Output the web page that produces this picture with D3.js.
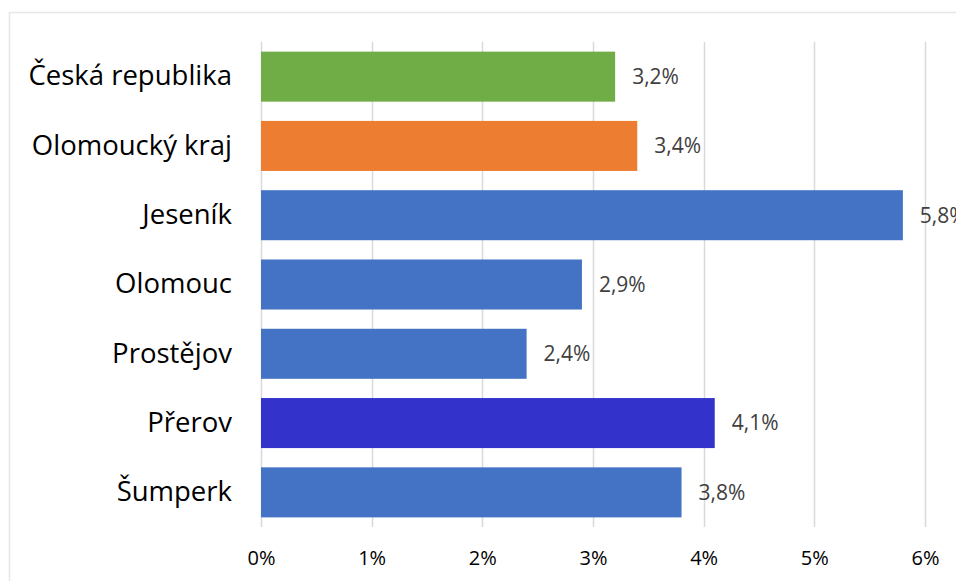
<!DOCTYPE html>
<html>
<head>
<meta charset="utf-8">
<script src="https://cdn.jsdelivr.net/npm/d3@7"></script>
<style>
  html, body { margin: 0; padding: 0; background: #fff; }
  svg { display: block; }
</style>
</head>
<body>
<svg id="chart" width="956" height="581"></svg>
<script>
// Unemployment share by region (percent)
const categories = ["Česká republika", "Olomoucký kraj", "Jeseník", "Olomouc", "Prostějov", "Přerov", "Šumperk"];
const values = [3.2, 3.4, 5.8, 2.9, 2.4, 4.1, 3.8];
const barColors = ["#70AD47", "#ED7D31", "#4472C4", "#4472C4", "#4472C4", "#3333CC", "#4472C4"];
const tickValues = [0, 1, 2, 3, 4, 5, 6];

const svg = d3.select("#chart");
const font = "'Open Sans', 'Noto Sans', sans-serif";

// chart frame
svg.append("rect")
  .attr("x", 9.5).attr("y", 12.5)
  .attr("width", 1000).attr("height", 1000)
  .attr("fill", "none").attr("stroke", "#e6e6e6").attr("stroke-width", 1.5);

const x = d3.scaleLinear().domain([0, 6]).range([261, 925]);
const y = d3.scaleBand().domain(categories).range([42, 527]).paddingInner(0.278).paddingOuter(0.139);

// vertical gridlines
svg.append("g").selectAll("line").data(tickValues).join("line")
  .attr("x1", d => Math.round(x(d)) + 0.5).attr("x2", d => Math.round(x(d)) + 0.5)
  .attr("y1", 42).attr("y2", 527)
  .attr("stroke", "#d9d9d9").attr("stroke-width", 1.5);

// x axis labels
const xAxis = d3.axisBottom(x).tickValues(tickValues).tickSize(0).tickPadding(0)
  .tickFormat(d => d + "%");
svg.append("g").attr("transform", "translate(0,558)").call(xAxis)
  .call(g => g.select(".domain").remove())
  .call(g => g.selectAll("text")
    .attr("font-family", font).attr("font-size", 20).attr("fill", "#000").attr("dy", "0.35em"));

// bars
svg.append("g").selectAll("rect").data(categories).join("rect")
  .attr("x", x(0))
  .attr("y", d => y(d))
  .attr("width", (d, i) => x(values[i]) - x(0))
  .attr("height", y.bandwidth())
  .attr("fill", (d, i) => barColors[i]);

// category labels
const yAxis = d3.axisLeft(y).tickSize(0).tickPadding(0);
svg.append("g").attr("transform", "translate(232,0)").call(yAxis)
  .call(g => g.select(".domain").remove())
  .call(g => g.selectAll("text")
    .attr("font-family", font).attr("font-size", 27.5).attr("fill", "#000"));

// value labels
svg.append("g").selectAll("text").data(categories).join("text")
  .attr("x", (d, i) => x(values[i]) + 17)
  .attr("y", d => y(d) + y.bandwidth() / 2)
  .attr("dy", "0.35em")
  .attr("font-family", font).attr("font-size", 21).attr("fill", "#404040")
  .text((d, i) => values[i].toFixed(1).replace(".", ",") + "%");
</script>
</body>
</html>
